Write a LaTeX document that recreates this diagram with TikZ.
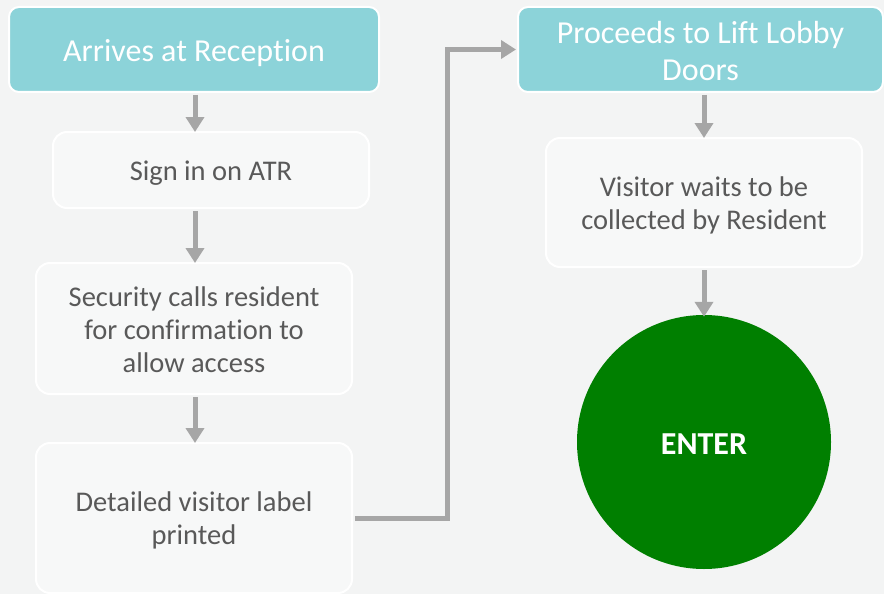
\documentclass[tikz,border=0pt]{standalone}
\usepackage{fontspec}
\setmainfont[Ligatures=NoCommon]{Carlito}
\usetikzlibrary{arrows.meta}
\definecolor{pagebg}{HTML}{F3F4F4}
\definecolor{headfill}{HTML}{8CD3D9}
\definecolor{stepfill}{HTML}{F7F8F8}
\definecolor{steptext}{HTML}{595959}
\definecolor{linkgray}{HTML}{A6A6A6}
\definecolor{entergreen}{HTML}{007F00}
% lower a piece of text without changing the size TikZ sees
\newcommand{\dropby}[2]{\raisebox{-#1}[\height][\depth]{#2}}
\tikzset{
  headbox/.style={draw=white, line width=2pt, fill=headfill, rounded corners=10pt,
    text=white, font=\fontsize{32}{37}\selectfont, align=center, inner sep=0pt},
  stepbox/.style={draw=white, line width=2pt, fill=stepfill, rounded corners=14pt,
    text=steptext, font=\fontsize{28.5}{33}\selectfont, align=center, inner sep=0pt},
  link/.style={draw=linkgray, line width=5pt, -{Triangle[length=15pt,width=18pt]}},
}
\begin{document}
\begin{tikzpicture}[x=1pt,y=-1pt]
  \fill[pagebg] (0,0) rectangle (884,594);
  \useasboundingbox (0,0) rectangle (884,594);

  % left column
  \node[headbox, minimum width=370pt, minimum height=85pt] (rec) at (194,49.5)
    {\dropby{4pt}{Arrives at Reception}};
  \node[stepbox, minimum width=316pt, minimum height=76pt] (sign) at (211,170)
    {\dropby{3pt}{Sign in on ATR}};
  \node[stepbox, minimum width=316pt, minimum height=131pt] (sec) at (194,328.5)
    {\dropby{4pt}{\begin{tabular}{@{}c@{}}Security calls resident\\for confirmation to\\allow access\end{tabular}}};
  \node[stepbox, minimum width=316pt, minimum height=150pt] (lbl) at (194,518)
    {\dropby{3pt}{\begin{tabular}{@{}c@{}}Detailed visitor label\\printed\end{tabular}}};

  % right column
  \node[headbox, minimum width=365pt, minimum height=85pt] (lift) at (700.5,49.5)
    {\dropby{5pt}{\begin{tabular}{@{}c@{}}Proceeds to Lift Lobby\\Doors\end{tabular}}};
  \node[stepbox, minimum width=316pt, minimum height=129pt] (wait) at (704,202.5)
    {\dropby{4pt}{\begin{tabular}{@{}c@{}}Visitor waits to be\\collected by Resident\end{tabular}}};
  \node[circle, fill=entergreen, minimum size=254pt, inner sep=0pt, text=white,
    font=\fontsize{32}{36}\selectfont\bfseries] (enter) at (704,442) {\dropby{2pt}{ENTER}};

  % connectors
  \coordinate (elbow) at (447,0);
  \draw[link] (rec.south -| 195,0) ++(0,2) -- ([yshift=-1pt]sign.north -| 195,0);
  \draw[link] (sign.south -| 195,0) ++(0,2) -- ([yshift=-1pt]sec.north -| 195,0);
  \draw[link] (sec.south -| 195,0) ++(0,2) -- ([yshift=-1pt]lbl.north -| 195,0);
  \draw[link] (lbl.east) ++(2,0) -| (elbow |- lift.west) -- ([xshift=-1pt]lift.west);
  \draw[link] (lift.south -| 704,0) ++(0,2) -- ([yshift=-1pt]wait.north);
  \draw[link] (wait.south) ++(0,2) -- ([yshift=-2pt]enter.north);
\end{tikzpicture}
\end{document}
